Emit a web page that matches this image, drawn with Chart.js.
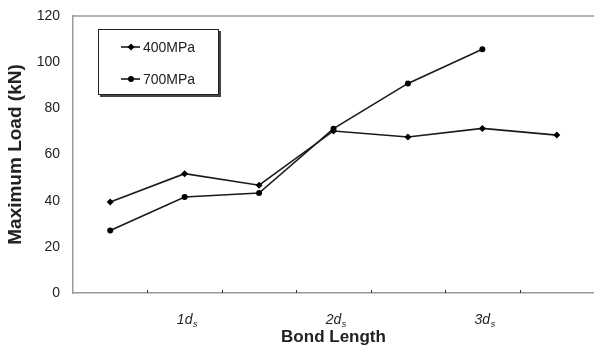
<!DOCTYPE html>
<html>
<head>
<meta charset="utf-8">
<script src="https://cdn.jsdelivr.net/npm/chart.js@4/dist/chart.umd.min.js"></script>
<style>
  body { margin: 0; background: #fff; }
  canvas { display: block; }
</style>
</head>
<body>
<canvas id="loadChart" width="594" height="349"></canvas>
<script>
// bond length slots, only every other one carries a label
const bondLabels = ['', '1d', '', '2d', '', '3d', ''];
const load400 = [39.4, 51.7, 46.7, 70.2, 67.6, 71.3, 68.4];
const load700 = [27.1, 41.6, 43.3, 71.2, 90.8, 105.6, null];
const yTicks = [0, 20, 40, 60, 80, 100, 120];

const FONT = '"Liberation Sans", Arial, sans-serif';
const axisGray = '#9a9a9a';

// top frame line, inward tick marks, "nd" labels with subscript s, boxed legend
const decorations = {
    id: 'decorations',
    afterDraw(chart) {
        const ctx = chart.ctx;
        const area = chart.chartArea;
        const xs = chart.scales.x;

        ctx.save();
        ctx.strokeStyle = axisGray;
        ctx.lineWidth = 1.5;
        ctx.beginPath();
        ctx.moveTo(area.left, area.top);
        ctx.lineTo(area.right, area.top);
        ctx.stroke();

        // tick marks between the categories, pointing up into the plot
        ctx.strokeStyle = '#333';
        ctx.lineWidth = 1;
        const n = xs.ticks.length;
        const step = (area.right - area.left) / n;
        for (let i = 1; i < n; i++) {
            const x = Math.round(area.left + i * step) + 0.5;
            ctx.beginPath();
            ctx.moveTo(x, area.bottom - 3);
            ctx.lineTo(x, area.bottom);
            ctx.stroke();
        }

        // category labels: italic "nd" plus a small lowered s
        const size = xs.options.ticks.font.size;
        const base = xs.top + 31;
        ctx.fillStyle = '#222';
        ctx.textBaseline = 'alphabetic';
        xs.ticks.forEach((t, i) => {
            const txt = bondLabels[i];
            if (!txt) return;
            ctx.font = 'italic ' + size + 'px ' + FONT;
            const w = ctx.measureText(txt).width;
            const x = xs.getPixelForTick(i);
            ctx.textAlign = 'center';
            ctx.fillText(txt, x, base);
            ctx.font = 'italic 9px ' + FONT;
            ctx.textAlign = 'left';
            ctx.fillText('s', x + w / 2 + 0.5, base + 3);
        });

        // legend box with shadow
        const lx = 98, ly = 29, lw = 121, lh = 66;
        ctx.fillStyle = '#444';
        ctx.fillRect(lx + 2, ly + 2, lw, lh);
        ctx.fillStyle = '#fff';
        ctx.fillRect(lx, ly, lw, lh);
        ctx.strokeStyle = '#222';
        ctx.lineWidth = 1;
        ctx.strokeRect(lx + 0.5, ly + 0.5, lw - 1, lh - 1);

        chart.data.datasets.forEach((ds, i) => {
            const y = ly + 18 + i * 32;
            ctx.strokeStyle = ds.borderColor;
            ctx.lineWidth = ds.borderWidth;
            ctx.beginPath();
            ctx.moveTo(lx + 23, y);
            ctx.lineTo(lx + 42, y);
            ctx.stroke();
            ctx.fillStyle = ds.pointBackgroundColor;
            Chart.helpers.drawPoint(ctx, {
                pointStyle: ds.pointStyle,
                radius: ds.pointRadius,
                borderWidth: 0
            }, lx + 33, y);
            ctx.fillStyle = '#222';
            ctx.font = '14px ' + FONT;
            ctx.textAlign = 'left';
            ctx.textBaseline = 'middle';
            ctx.fillText(ds.label, lx + 45, y + 1);
        });
        ctx.restore();
    }
};

const loadChart = new Chart(document.getElementById('loadChart'), {
    type: 'line',
    data: {
        labels: bondLabels,
        datasets: [{
            label: '400MPa',
            data: load400,
            borderColor: '#1a1a1a',
            borderWidth: 1.6,
            pointStyle: 'rectRot',
            pointRadius: 3.5,
            pointBackgroundColor: '#000',
            pointBorderColor: '#000',
            pointBorderWidth: 0,
            tension: 0
        }, {
            label: '700MPa',
            data: load700,
            borderColor: '#1a1a1a',
            borderWidth: 1.6,
            pointStyle: 'circle',
            pointRadius: 3,
            pointBackgroundColor: '#000',
            pointBorderColor: '#000',
            pointBorderWidth: 0,
            tension: 0
        }]
    },
    options: {
        responsive: false,
        animation: false,
        layout: { autoPadding: false, padding: { top: 16, right: 0, bottom: 0, left: 0 } },
        plugins: {
            legend: { display: false },
            tooltip: { enabled: false }
        },
        scales: {
            x: {
                offset: true,
                grid: { display: false, drawTicks: false },
                border: { display: true, color: axisGray, width: 1.5 },
                ticks: {
                    autoSkip: false,
                    maxRotation: 0,
                    padding: 12,
                    color: 'rgba(0,0,0,0)',
                    font: { family: FONT, size: 14, style: 'italic' }
                },
                title: {
                    display: true,
                    text: 'Bond Length',
                    color: '#222',
                    padding: { top: 0, bottom: 1 },
                    font: { family: FONT, size: 17, weight: 'bold' }
                },
                afterFit(scale) {
                    scale.height = 56;
                    scale.paddingLeft = 0;
                    scale.paddingRight = 0;
                }
            },
            y: {
                min: 0,
                max: 120,
                afterBuildTicks(scale) { scale.ticks = yTicks.map(v => ({ value: v })); },
                grid: { display: false, drawTicks: false },
                border: { display: true, color: axisGray, width: 1.5 },
                ticks: {
                    padding: 13,
                    color: '#222',
                    font: { family: FONT, size: 14 }
                },
                title: {
                    display: true,
                    text: 'Maximum Load (kN)',
                    color: '#222',
                    padding: { top: 4, bottom: 0 },
                    font: { family: FONT, size: 19, weight: 'bold' }
                },
                afterFit(scale) {
                    scale.width = 73;
                    scale.paddingTop = 0;
                    scale.paddingBottom = 0;
                }
            }
        }
    },
    plugins: [decorations]
});
</script>
</body>
</html>
